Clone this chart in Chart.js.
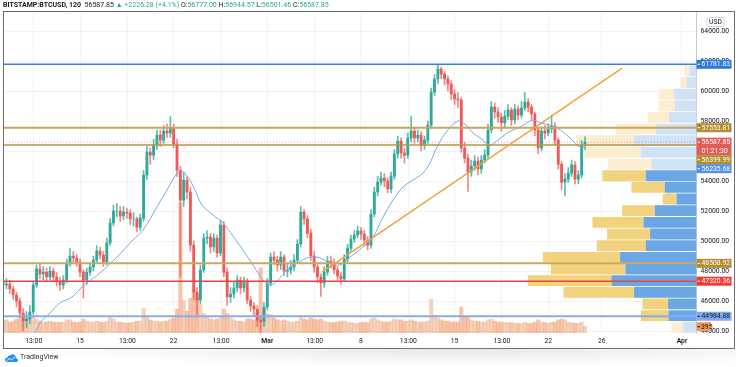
<!DOCTYPE html>
<html>
<head>
<meta charset="utf-8">
<script src="https://cdn.jsdelivr.net/npm/chart.js@4.4.1/dist/chart.umd.min.js"></script>
<style>
  html, body { margin: 0; padding: 0; background: #fff; }
  #wrap { position: relative; width: 736px; height: 367px; overflow: hidden; font-family: Roboto, "Noto Sans", Arial, sans-serif; color: #131722; }
  #c { position: absolute; left: 0; top: 0; }
  #frame { position: absolute; left: 3px; top: 11px; width: 732px; height: 338px; box-sizing: border-box; border: 1px solid #6f6f6f; pointer-events: none; }
  #hdr { position: absolute; left: 3px; top: 0; height: 11px; line-height: 10px; font-size: 7px; white-space: nowrap; }
  #hdr b { font-weight: 700; }
  #hdr .g { color: #26a69a; }
  #shade { position: absolute; left: 0; top: 349px; width: 736px; height: 18px; background: radial-gradient(ellipse 60% 100% at 62% 0%, rgba(0,0,0,0.09), rgba(0,0,0,0) 100%); }
  #logo { position: absolute; left: 5px; top: 353px; font-size: 7px; line-height: 9px; display: flex; align-items: center; gap: 2px; color: #2a2e39; }
</style>
</head>
<body>
<div id="wrap">
  <canvas id="c" width="736" height="367"></canvas>
  <div id="hdr"><b>BITSTAMP:BTCUSD, 120</b>&nbsp; 56587.85 <span class="g">&#9650; +2226.28 (+4.1%)</span> O:<span class="g">56777.00</span> H:<span class="g">56944.57</span> L:<span class="g">56501.46</span> C:<span class="g">56587.85</span></div>
  <div id="frame"></div>
  <div id="shade"></div>
  <div id="logo">
    <svg width="13" height="8" viewBox="0 0 13 8"><path d="M2.5 8 C0.8 8 0 6.9 0 5.8 C0 4.6 1 3.7 2.2 3.8 C2.6 2.1 4 1 5.6 1.2 C6.6 0.2 8.4 0 9.6 1 C10.6 1.8 10.9 2.9 10.7 3.9 C12.1 4.1 13 5.1 13 6.2 C13 7.3 12.1 8 11 8 Z" fill="#2a8ef0"/><path d="M2 6.6 L4.6 4.4 L6.6 5.8 L9.8 3" stroke="#fff" stroke-width="1" fill="none"/></svg>
    <span>TradingView</span>
  </div>
</div>
<script>
// time axis, in days from Feb 8 00:00
const tickDays = [3.54, 7, 10.54, 14, 17.54, 21, 24.54, 28, 31.54, 35, 38.54, 42, 46, 52];
const tickLabels = ['13:00', '15', '13:00', '22', '13:00', 'Mar', '13:00', '8', '13:00', '15', '13:00', '22', '26', 'Apr'];
const priceTicks = [44000, 46000, 48000, 50000, 52000, 54000, 56000, 58000, 60000, 62000, 64000];

// 6h candles starting Feb 9 06:00
const firstDay = 1.25;
const candleStep = 0.25;
const firstOpen = 47300;
const closes = [
  47070, 47130, 46800, 46400, 46000, 45200, 44670, 44800, 45270, 47070,
  48130, 47800, 47930, 47600, 48000, 47600, 47330, 47070, 47400, 48470,
  49000, 48870, 48600, 47930, 47400, 47930, 48270, 48730, 49330, 49070,
  48600, 49870, 51200, 52000, 52000, 51670, 51930, 51870, 51470, 51470,
  50930, 51530, 54400, 55930, 55730, 56400, 57070, 56730, 57330, 57200,
  57530, 56470, 54730, 52730, 54070, 53270, 49730, 46600, 46070, 48070,
  50200, 50270, 49600, 50200, 49200, 51070, 47930, 46270, 46470, 46870,
  47400, 46870, 47330, 46070, 45670, 45470, 44730, 44600, 45600, 47200,
  48930, 48730, 48400, 48930, 48000, 48070, 48270, 48730, 49800, 51930,
  51470, 50530, 49000, 48270, 47600, 47200, 47930, 48670, 48530, 48070,
  47670, 47470, 48800, 49530, 50130, 50400, 50670, 50470, 50070, 49730,
  51800, 53270, 53930, 54200, 54000, 53470, 54330, 55800, 56670, 55870,
  55730, 56870, 57330, 56870, 57070, 56400, 56730, 57730, 59930, 60800,
  61470, 61130, 60800, 60470, 59800, 59470, 59400, 56200, 55530, 54600,
  55000, 55330, 54800, 55400, 55730, 57400, 58930, 58600, 58270, 57870,
  58330, 58730, 58070, 58800, 58400, 58870, 59270, 58930, 58470, 57400,
  56200, 57330, 57200, 57470, 57670, 56730, 55130, 53930, 54130, 54530,
  55070, 54130, 54400, 56400, 56587.85
];
const highs = [
  47600, 47500, 47400, 47000, 46600, 46200, 45500, 45300, 45700, 47300,
  48400, 48500, 48300, 48200, 48300, 48200, 47900, 47600, 47700, 48800,
  49500, 49300, 49100, 48800, 48100, 48200, 48500, 49000, 49700, 49600,
  49300, 50200, 51500, 52400, 52500, 52300, 52300, 52200, 52100, 51900,
  51600, 51800, 54700, 56300, 56200, 56800, 57400, 57400, 57700, 57800,
  58300, 57800, 56800, 55000, 54600, 54300, 53600, 50000, 46900, 48400,
  50500, 50700, 50500, 50500, 50400, 51400, 51300, 48200, 46900, 47300,
  47700, 47600, 47600, 47500, 46300, 45900, 45700, 45000, 45900, 47500,
  49200, 49300, 49000, 49300, 49100, 48500, 48700, 49100, 50100, 52300,
  52100, 51700, 50800, 49300, 48500, 47800, 48300, 49000, 49000, 48800,
  48300, 47900, 49100, 49800, 50400, 50700, 51000, 50900, 50700, 50300,
  52100, 53600, 54300, 54600, 54500, 54200, 54600, 56100, 57000, 56900,
  56200, 57200, 58300, 57600, 57400, 57300, 57000, 58000, 60200, 61100,
  61780, 61600, 61300, 61000, 60700, 60100, 59900, 59600, 56600, 55800,
  55400, 55700, 55600, 55700, 56100, 57800, 59300, 59200, 58900, 58500,
  58700, 59100, 58900, 59100, 59000, 59300, 59900, 59500, 59100, 58600,
  57600, 57600, 57700, 57800, 58400, 57900, 56900, 55300, 54500, 54900,
  55400, 55300, 54700, 56700, 56944.57
];
const lows = [
  46700, 46800, 46500, 46100, 45600, 44900, 44000, 44200, 44500, 45100,
  46900, 47500, 47400, 47300, 47400, 47300, 47000, 46700, 46800, 47200,
  48300, 48500, 48300, 47600, 46200, 47100, 47700, 48000, 48500, 48800,
  48300, 48400, 49700, 51000, 51600, 51300, 51400, 51500, 51100, 51000,
  50600, 50700, 51300, 54100, 55100, 55400, 56100, 56300, 56500, 56900,
  56900, 56200, 54300, 47600, 52300, 52800, 49300, 46100, 45000, 45800,
  47900, 49800, 49200, 49300, 48900, 49000, 47600, 45700, 45900, 46200,
  46600, 46500, 46600, 45800, 45300, 45000, 44300, 43900, 44300, 45400,
  47000, 48400, 48000, 48100, 47700, 47600, 47800, 48000, 48500, 49600,
  51100, 50200, 48700, 47900, 47200, 46300, 46900, 47700, 48200, 47800,
  47400, 47100, 47300, 48500, 49300, 49900, 50200, 50100, 49700, 49400,
  49500, 51600, 53000, 53700, 53600, 53200, 53200, 54100, 55500, 55500,
  55200, 55500, 56600, 56500, 56600, 56000, 56100, 56500, 57500, 59700,
  60500, 60800, 60400, 60000, 59400, 59100, 58900, 55900, 55200, 53300,
  54300, 54700, 54400, 54500, 55200, 55500, 57200, 58200, 57900, 57300,
  57600, 58100, 57700, 57800, 58100, 58200, 58700, 58600, 58100, 57000,
  55800, 56000, 56800, 57000, 57200, 56400, 54800, 53400, 53000, 53900,
  54300, 53800, 53800, 54200, 56100
];
const volumes = [
  750, 820, 680, 750, 880, 950, 1220, 1020, 880, 1090,
  880, 750, 680, 680, 750, 680, 650, 680, 680, 820,
  820, 680, 650, 680, 880, 750, 680, 680, 750, 680,
  650, 750, 1020, 880, 680, 680, 650, 610, 650, 680,
  750, 750, 1560, 1090, 820, 750, 750, 680, 750, 750,
  880, 950, 1500, 8160, 2040, 1360, 2180, 2720, 2380, 1770,
  1220, 1020, 880, 820, 880, 1020, 1500, 1220, 950, 820,
  750, 750, 680, 880, 880, 820, 1290, 4080, 1560, 1220,
  1160, 950, 820, 750, 820, 750, 680, 680, 750, 1090,
  880, 820, 950, 880, 820, 880, 750, 680, 650, 650,
  680, 750, 750, 680, 650, 610, 610, 650, 680, 650,
  880, 950, 820, 750, 680, 680, 750, 880, 820, 820,
  750, 750, 820, 750, 680, 680, 680, 750, 2110, 1090,
  950, 820, 750, 750, 680, 680, 680, 1630, 1090, 1020,
  820, 750, 750, 680, 680, 820, 880, 750, 680, 680,
  650, 650, 650, 610, 610, 610, 680, 610, 610, 680,
  820, 680, 650, 610, 680, 680, 820, 880, 820, 680,
  650, 610, 610, 680, 395
];

// moving average
const maDays = [3.55, 4.01, 4.75, 5.50, 6.40, 7.22, 8.49, 9.76, 10.96, 11.71, 12.75, 13.50, 14.10, 14.55, 15.07, 15.59, 16.12, 16.94, 17.69, 18.43, 19.18, 19.93, 20.68, 21.20, 21.72, 22.47, 23.22, 24.19, 24.94, 25.68, 26.43, 27.18, 28.15, 28.90, 29.65, 30.40, 31.14, 31.89, 32.64, 33.16, 33.68, 34.43, 35.26, 35.78, 36.38, 36.90, 37.65, 38.17, 38.92, 39.89, 40.86, 41.39, 42.13, 42.88, 43.63, 44.23, 44.75];
const maValues = [43600, 44530, 45200, 45870, 46270, 47000, 47870, 48930, 50070, 50730, 52270, 53400, 54330, 54670, 54270, 53400, 52400, 51730, 51200, 50330, 49400, 48400, 47400, 47070, 47330, 48070, 48530, 48930, 48870, 48530, 48400, 48930, 49600, 50270, 51600, 52730, 53600, 54070, 54530, 55200, 56270, 57330, 58000, 57800, 57200, 56870, 56400, 56670, 57200, 57600, 58070, 57870, 57730, 57400, 56870, 56330, 56235.68];

// horizontal levels and trend line
const levelPrices = [61781.83, 57553.81, 56399.99, 48508.92, 47320.36, 44984.88];
const levelColors = ['#3b7ddd', '#caa55c', '#b8934a', '#c9a862', '#e8453c', '#86adf0'];
const trendDays = [25.09, 47.52];
const trendPrices = [47930, 61530];
const lastPrice = 56587.85;
const maLast = 56235.68;
const countdown = '01:21:30';

// volume profile (rows from top)
const profileRows = [61345, 60568, 59791, 59014, 58237, 57460, 56683, 55906, 55129, 54352, 53575, 52798, 52021, 51244, 50467, 49690, 48913, 48136, 47359, 46582, 45805, 45028, 44251];
const profileBuy = [50, 60, 156, 163, 216, 400, 576, 567, 434, 433, 333, 137, 327, 510, 430, 490, 773, 747, 837, 706, 256, 277, 116];
const profileSell = [70, 100, 224, 217, 274, 407, 624, 557, 450, 507, 317, 200, 417, 530, 464, 507, 764, 710, 850, 624, 284, 280, 134];
const valueArea = [9, 21];

const X_MIN = 1.2409, X_MAX = 53.084;
const Y_MIN = 43867, Y_MAX = 65267;
const font = 'Roboto, "Noto Sans", sans-serif';

const candleDays = closes.map((_, i) => firstDay + i * candleStep);
const opens = closes.map((c, i) => (i === 0 ? firstOpen : closes[i - 1]));
const isUp = closes.map((c, i) => c >= opens[i]);
const inVA = profileRows.map((_, k) => k >= valueArea[0] && k <= valueArea[1]);

const hLine = (p) => [{ x: X_MIN, y: p }, { x: X_MAX, y: p }];

const datasets = [
  {
    type: 'line', label: 'trend', order: 1,
    data: trendDays.map((d, i) => ({ x: d, y: trendPrices[i] })),
    borderColor: '#f5a03c', borderWidth: 1.5, pointRadius: 0
  },
  ...levelPrices.map((p, i) => ({
    type: 'line', label: 'level' + i, order: 2,
    data: hLine(p), borderColor: levelColors[i], borderWidth: i === 2 || i === 4 || i === 0 ? 1.5 : 2, pointRadius: 0
  })),
  {
    type: 'line', label: 'last', order: 3, data: hLine(lastPrice),
    borderColor: 'rgba(239,83,80,0.55)', borderWidth: 1, borderDash: [1, 2], pointRadius: 0
  },
  {
    type: 'line', label: 'ma', order: 4,
    data: maDays.map((d, i) => ({ x: d, y: maValues[i] })),
    borderColor: '#74aaf0', borderWidth: 1, pointRadius: 0, tension: 0.35
  },
  {
    type: 'bar', label: 'body', order: 5, grouped: false, barThickness: 2.2,
    data: candleDays.map((d, i) => ({ x: d, y: [opens[i], closes[i]] })),
    backgroundColor: isUp.map(u => (u ? '#2fa99a' : '#ee5a57'))
  },
  {
    type: 'bar', label: 'wick', order: 6, grouped: false, barThickness: 1,
    data: candleDays.map((d, i) => ({ x: d, y: [lows[i], highs[i]] })),
    backgroundColor: isUp.map(u => (u ? 'rgba(38,166,154,0.75)' : 'rgba(239,83,80,0.7)'))
  },
  {
    type: 'bar', label: 'volume', order: 8, grouped: false, barThickness: 3.4, yAxisID: 'yv',
    data: candleDays.map((d, i) => ({ x: d, y: volumes[i] })),
    backgroundColor: isUp.map(u => (u ? 'rgba(236,178,140,0.6)' : 'rgba(242,156,112,0.6)'))
  },
  {
    type: 'bar', label: 'sell', order: 9, indexAxis: 'y', grouped: false,
    xAxisID: 'xp', yAxisID: 'yp', categoryPercentage: 1, barPercentage: 0.93,
    data: profileRows.map((p, k) => ({ y: p, x: [0, profileSell[k]] })),
    backgroundColor: inVA.map(v => (v ? '#6aa7e4' : '#cfe2f6'))
  },
  {
    type: 'bar', label: 'buy', order: 9, indexAxis: 'y', grouped: false,
    xAxisID: 'xp', yAxisID: 'yp', categoryPercentage: 1, barPercentage: 0.93,
    data: profileRows.map((p, k) => ({ y: p, x: [profileSell[k], profileSell[k] + profileBuy[k]] })),
    backgroundColor: inVA.map(v => (v ? '#f2d27c' : '#fcedcf'))
  }
];

const axisLabels = {
  id: 'axisLabels',
  afterDraw(chart) {
    const { ctx, chartArea, scales } = chart;
    const left = chartArea.right;
    const boxW = 35;
    ctx.save();
    ctx.font = '6.8px ' + font;
    ctx.textBaseline = 'middle';

    // currency box
    ctx.fillStyle = '#fff';
    ctx.strokeStyle = '#d1d4dc';
    ctx.lineWidth = 1;
    ctx.beginPath();
    ctx.roundRect(left + 10.5, 17.5, 17, 9, 1.5);
    ctx.fill();
    ctx.stroke();
    ctx.fillStyle = '#131722';
    ctx.textAlign = 'center';
    ctx.fillText('USD', left + 19, 22.3);
    ctx.textAlign = 'left';

    const boxes = [
      { price: levelPrices[0], bg: '#2f78dc', fg: '#fff' },
      { price: levelPrices[1], bg: '#b38e2e', fg: '#fff' },
      { price: lastPrice, bg: '#e45c5a', fg: '#fff', sub: countdown },
      { price: levelPrices[2], bg: '#b38e2e', fg: '#fff' },
      { price: maLast, bg: '#4f90ea', fg: '#fff' },
      { price: levelPrices[3], bg: '#b38e2e', fg: '#fff' },
      { price: levelPrices[4], bg: '#ee3b34', fg: '#fff' },
      { price: levelPrices[5], bg: '#7eaaf0', fg: '#131722' }
    ];
    let prevBottom = -Infinity;
    boxes.forEach(b => {
      const h = b.sub ? 17.5 : 9;
      const cy = scales.y.getPixelForValue(b.price);
      const top = Math.max(cy - 4.5, prevBottom);
      ctx.fillStyle = b.bg;
      ctx.fillRect(left, top, boxW, h);
      ctx.fillStyle = b.fg;
      ctx.fillRect(left + 1, top + 4, 2.5, 1);
      ctx.fillText(b.price.toFixed(2), left + 5, top + 4.8);
      if (b.sub) ctx.fillText(b.sub, left + 5, top + 13.2);
      prevBottom = top + h;
    });

    // last volume label
    const lastVol = volumes[volumes.length - 1];
    const vy = scales.yv.getPixelForValue(lastVol);
    ctx.fillStyle = '#f29a57';
    ctx.fillRect(left, vy - 4.5, 14.5, 9);
    ctx.fillStyle = '#131722';
    ctx.fillRect(left + 1, vy - 0.5, 2.5, 1);
    ctx.fillText(String(lastVol), left + 4.5, vy + 0.3);
    ctx.restore();
  }
};

new Chart(document.getElementById('c'), {
  type: 'bar',
  data: { datasets },
  options: {
    responsive: false,
    animation: false,
    devicePixelRatio: 1,
    layout: { padding: { left: 3, top: 12, right: 2, bottom: 19 } },
    plugins: { legend: { display: false }, tooltip: { enabled: false } },
    scales: {
      x: {
        type: 'linear', min: X_MIN, max: X_MAX, offset: false, bounds: 'data',
        afterBuildTicks: s => { s.ticks = tickDays.map(v => ({ value: v })); },
        afterFit: s => { s.height = 15; },
        grid: { color: 'rgba(42,46,57,0.06)', drawTicks: false, offset: false },
        border: { display: false },
        ticks: {
          autoSkip: false, maxRotation: 0, padding: 4, color: '#131722',
          callback: (v, i) => tickLabels[i],
          font: c => ({ family: font, size: 6.8, weight: /^[A-Z]/.test(tickLabels[c.index] || '') ? '600' : '400' })
        }
      },
      y: {
        type: 'linear', position: 'right', min: Y_MIN, max: Y_MAX, offset: false, bounds: 'data',
        afterBuildTicks: s => { s.ticks = priceTicks.map(v => ({ value: v })); },
        afterFit: s => { s.width = 37.5; },
        grid: { color: 'rgba(42,46,57,0.06)', drawTicks: false },
        border: { color: 'rgba(42,46,57,0.25)' },
        ticks: { padding: 4, color: '#131722', font: { family: font, size: 6.8 }, callback: v => v.toFixed(2) }
      },
      yv: { type: 'linear', display: false, min: 0, max: 20130, offset: false },
      yp: { type: 'linear', display: false, min: Y_MIN, max: Y_MAX, offset: false },
      xp: { type: 'linear', display: false, min: 0, max: 6935, reverse: true, offset: false }
    }
  },
  plugins: [axisLabels]
});
</script>
</body>
</html>
